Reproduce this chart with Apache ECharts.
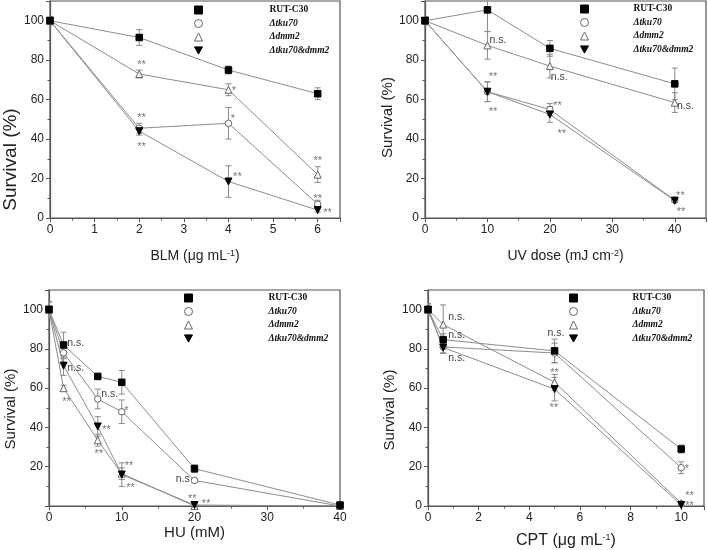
<!DOCTYPE html>
<html><head><meta charset="utf-8">
<script src="https://cdn.jsdelivr.net/npm/echarts@6/dist/echarts.min.js"></script>
<style>html,body{margin:0;padding:0;background:#fff}#c{width:708px;height:550px}</style>
</head><body><div id="c"></div>
<script>
const seriesNames = ['RUT-C30', 'Δtku70', 'Δdmm2', 'Δtku70&dmm2'];

// Panel A: BLM (µg/mL)
const blmDose = [0, 2, 4, 6];
const blmRUT = [100, 91.5, 75, 63];
const blmRUTErr = [2, 4, 2, 3];
const blmTku = [100, 45.5, 48, 7];
const blmTkuErr = [2, 2.5, 8, 2];
const blmDmm = [100, 73, 65, 22];
const blmDmmErr = [2, 2, 3, 4];
const blmDbl = [100, 44, 18.5, 4];
const blmDblErr = [2, 2, 8, 1];
const blmNotes = [[2.05, 79, '**'], [2.05, 52, '**'], [2.05, 37.5, '**'], [4.12, 66, '*'], [4.1, 51.5, '*'],
  [4.2, 22.4, '**'], [6.0, 30.4, '**'], [6.0, 11.3, '**'], [6.22, 3.9, '**']];

// Panel B: UV dose (mJ/cm2)
const uvDose = [0, 10, 20, 40];
const uvRUT = [100, 105.5, 86, 68];
const uvRUTErr = [2, 11, 4, 8];
const uvTku = [100, 64, 55, 9];
const uvTkuErr = [2, 5, 3, 1];
const uvDmm = [100, 87.5, 77, 58.5];
const uvDmmErr = [2, 7, 6, 5];
const uvDbl = [100, 64, 52.5, 8.8];
const uvDblErr = [2, 5, 4, 1];
const uvNotes = [[11.7, 90, 'n.s.'], [10.9, 72.8, '**'], [10.9, 55.4, '**'], [21.5, 71.5, 'n.s.'],
  [21.2, 58.3, '**'], [21.9, 44.1, '**'], [41.7, 56.6, 'n.s.'], [40.9, 12.7, '**'], [41, 4.8, '**']];

// Panel C: HU (mM)
const huDose = [0, 2, 6.7, 10, 20, 40];
const huRUT = [100, 82, 66, 63, 19, 0.5];
const huRUTErr = [4, 6.5, 1.5, 6, 2, 0.5];
const huTku = [100, 78, 54.5, 48, 13, 0];
const huTkuErr = [4, 3, 5, 6, 1, 0];
const huDmm = [100, 60, 33.5, 16.5, 0, 0];
const huDmmErr = [4, 1.5, 3, 3, 0, 0];
const huDbl = [100, 71.5, 40.5, 16, 0.5, 0];
const huDblErr = [4, 5, 5, 6, 0.5, 0];
const huNotes = [[3.67, 83, 'n.s.'], [3.67, 70.2, 'n.s.'], [2.4, 54.3, '**'], [8.35, 57.2, 'n.s.'],
  [7.9, 40.4, '**'], [6.84, 27.9, '**'], [10.65, 49.9, '*'], [11, 22, '**'], [11.2, 10.7, '**'],
  [18.4, 13.9, 'n.s'], [19.7, 5.1, '**'], [21.6, 2.6, '**']];

// Panel D: CPT (µg/mL)
const cptDose = [0, 0.6, 5, 10];
const cptRUT = [100, 84.7, 79, 29];
const cptRUTErr = [3, 3, 6, 2];
const cptTku = [100, 81, 77.9, 19.5];
const cptTkuErr = [3, 3, 5, 3];
const cptDmm = [100, 92.4, 63, 1.5];
const cptDmmErr = [3, 10, 4, 1];
const cptDbl = [100, 80.7, 59.5, 0.5];
const cptDblErr = [3, 3, 6, 0.5];
const cptNotes = [[1.13, 96.2, 'n.s.'], [1.13, 86.9, 'n.s.'], [1.13, 75.4, 'n.s.'], [5.05, 88.1, 'n.s.'],
  [5, 69.1, '**'], [4.97, 51.7, '**'], [10.22, 20.3, '*'], [10.33, 6.4, '**'], [10.33, 1.4, '**']];

const yTicks = [0, 20, 40, 60, 80, 100];

const panels = [
  { dose: blmDose, vals: [blmRUT, blmTku, blmDmm, blmDbl], errs: [blmRUTErr, blmTkuErr, blmDmmErr, blmDblErr], notes: blmNotes,
    grid: { left: 49, top: 1, width: 291, height: 217 }, xMax: 6.5, xInt: 1, showMaxX: false, showMinY: true,
    xName: 'BLM (μg mL{sup|-1})', xFont: 14, xGap: 31, yFont: 19, yGap: 30, yShift: 100,
    legend: { left: 194, top: 5, gap: 62 } },
  { dose: uvDose, vals: [uvRUT, uvTku, uvDmm, uvDbl], errs: [uvRUTErr, uvTkuErr, uvDmmErr, uvDblErr], notes: uvNotes,
    grid: { left: 425, top: 1, width: 281, height: 217 }, xMax: 45, xInt: 10, showMaxX: false, showMinY: true,
    xName: 'UV dose (mJ cm{sup|-2})', xFont: 14, xGap: 31, yFont: 15, yGap: 29, yShift: 16,
    legend: { left: 580, top: 4, gap: 40 } },
  { dose: huDose, vals: [huRUT, huTku, huDmm, huDbl], errs: [huRUTErr, huTkuErr, huDmmErr, huDblErr], notes: huNotes,
    grid: { left: 49, top: 290, width: 291, height: 216 }, xMax: 40, xInt: 10, showMaxX: true, showMinY: false,
    xName: 'HU (mM)', xFont: 15, xGap: 18, yFont: 15, yGap: 31, yShift: 22,
    legend: { left: 184, top: 293, gap: 71 } },
  { dose: cptDose, vals: [cptRUT, cptTku, cptDmm, cptDbl], errs: [cptRUTErr, cptTkuErr, cptDmmErr, cptDblErr], notes: cptNotes,
    grid: { left: 428, top: 290, width: 276, height: 216 }, xMax: 10.9, xInt: 2, showMaxX: false, showMinY: true,
    xName: 'CPT (μg mL{sup|-1})', xFont: 16, xGap: 27, yFont: 15, yGap: 31, yShift: 24,
    legend: { left: 569, top: 293, gap: 50 } }
];

const markers = [
  { symbol: 'rect', size: 6.5, fill: '#000', stroke: '#000' },
  { symbol: 'circle', size: 6.5, fill: '#fff', stroke: '#666' },
  { symbol: 'triangle', size: 7, fill: '#fff', stroke: '#666' },
  { symbol: 'path://M0,0L10,0L5,9Z', size: 7, fill: '#000', stroke: '#000' }
];

const AX = '#555';
const FONT = 'Liberation Sans, Arial, sans-serif';

const grids = [], xAxes = [], yAxes = [], series = [], legends = [];

panels.forEach((p, i) => {
  grids.push(Object.assign({ show: true, borderColor: AX, borderWidth: 1.2, backgroundColor: 'transparent' }, p.grid));
  xAxes.push({
    gridIndex: i, type: 'value', min: 0, max: p.xMax, interval: p.xInt,
    axisLine: { show: true, onZero: false, lineStyle: { color: AX, width: 1.2 } },
    axisTick: { show: true, length: 4, lineStyle: { color: AX } },
    minorTick: { show: true, splitNumber: 2, length: 2.5, lineStyle: { color: AX } },
    splitLine: { show: false },
    axisLabel: { showMaxLabel: p.showMaxX, fontSize: 12, color: '#222', margin: 6, fontFamily: FONT },
    name: p.xName, nameLocation: 'middle', nameGap: p.xGap,
    nameTextStyle: { fontSize: p.xFont, color: '#222', fontFamily: FONT,
      rich: { sup: { fontSize: 9, verticalAlign: 'top', fontFamily: FONT, color: '#222' } } }
  });
  yAxes.push({
    gridIndex: i, type: 'value', min: 0, max: 110, interval: 20,
    axisLine: { show: true, lineStyle: { color: AX, width: 1.2 } },
    axisTick: { show: true, length: 4, lineStyle: { color: AX } },
    minorTick: { show: true, splitNumber: 2, length: 2.5, lineStyle: { color: AX } },
    splitLine: { show: false },
    axisLabel: { showMaxLabel: false, showMinLabel: p.showMinY, fontSize: 12, color: '#222', margin: 6, fontFamily: FONT,
      formatter: v => (yTicks.indexOf(v) >= 0 ? String(v) : '') },
    name: 'Survival (%)', nameLocation: 'middle', nameGap: p.yGap,
    nameTextStyle: { fontSize: p.yFont, color: '#222', fontFamily: FONT, padding: [0, p.yShift, 0, 0] }
  });

  // error bars
  p.vals.forEach((vals, s) => {
    const errs = p.errs[s];
    series.push({
      type: 'custom', xAxisIndex: i, yAxisIndex: i, clip: true, z: 1, silent: true,
      data: p.dose.map((d, k) => [d, vals[k], errs[k]]),
      renderItem: (params, api) => {
        const x = api.value(0), y = api.value(1), e = api.value(2);
        if (!e) return null;
        const top = api.coord([x, y + e]);
        const bot = api.coord([x, y - e]);
        const st = { stroke: '#8a8a8a', lineWidth: 1 };
        return {
          type: 'group', children: [
            { type: 'line', shape: { x1: top[0], y1: top[1], x2: bot[0], y2: bot[1] }, style: st },
            { type: 'line', shape: { x1: top[0] - 3, y1: top[1], x2: top[0] + 3, y2: top[1] }, style: st },
            { type: 'line', shape: { x1: bot[0] - 3, y1: bot[1], x2: bot[0] + 3, y2: bot[1] }, style: st }
          ]
        };
      }
    });
  });

  // lines + markers
  p.vals.forEach((vals, s) => {
    const m = markers[s];
    series.push({
      type: 'line', name: seriesNames[s], xAxisIndex: i, yAxisIndex: i, z: 3 + (s === 0 || s === 3 ? 1 : 0),
      data: p.dose.map((d, k) => [d, vals[k]]),
      symbol: m.symbol, symbolSize: m.size, showSymbol: true,
      itemStyle: { color: m.fill, borderColor: m.stroke, borderWidth: 1 },
      lineStyle: { color: '#8c8c8c', width: 1 },
      emphasis: { disabled: true }, animation: false
    });
  });

  // significance notes
  const notes = p.notes;
  series.push({
    type: 'custom', xAxisIndex: i, yAxisIndex: i, z: 5, silent: true, clip: false,
    data: notes.map(n => [n[0], n[1]]),
    renderItem: (params, api) => {
      const pt = api.coord([api.value(0), api.value(1)]);
      const txt = notes[params.dataIndex][2];
      const star = txt.indexOf('*') >= 0;
      return {
        type: 'text', x: pt[0], y: pt[1] + (star ? 3 : 0),
        style: { text: txt, fill: star ? '#777' : '#444', font: (star ? '11px ' : '10.5px ') + FONT,
          align: 'center', verticalAlign: 'middle' }
      };
    }
  });

  legends.push({
    left: p.legend.left, top: p.legend.top, orient: 'vertical', itemGap: 3.5, itemWidth: 8, itemHeight: 8,
    padding: 0, selectedMode: false,
    textStyle: { fontFamily: 'Liberation Serif, Times New Roman, serif', fontWeight: 'bold', fontSize: 9.5,
      color: '#111', padding: [0, 0, 0, p.legend.gap] },
    data: seriesNames.map((n, s) => ({
      name: n, icon: markers[s].symbol,
      itemStyle: { color: markers[s].fill, borderColor: markers[s].stroke, borderWidth: 1 },
      textStyle: s === 0 ? {} : { fontStyle: 'italic' }
    }))
  });
});

const chart = echarts.init(document.getElementById('c'), null, { renderer: 'canvas' });
chart.setOption({
  animation: false,
  backgroundColor: '#fff',
  grid: grids, xAxis: xAxes, yAxis: yAxes, legend: legends, series: series
});
</script></body></html>
